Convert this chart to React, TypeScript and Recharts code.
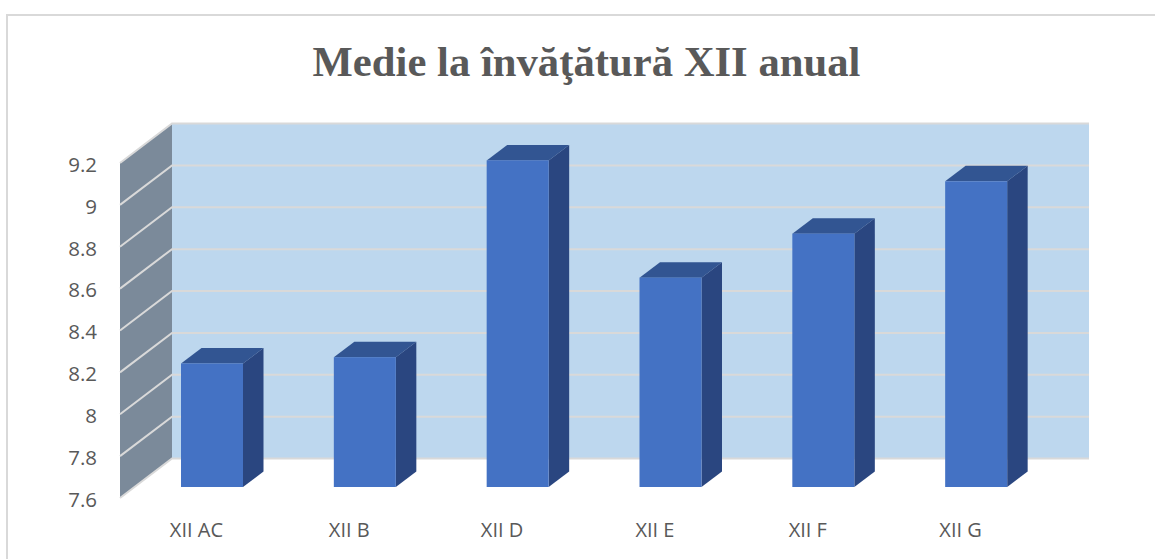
import React from "react";
import { BarChart, Bar, XAxis, YAxis, CartesianGrid } from "recharts";

const categories = ["XII AC", "XII B", "XII D", "XII E", "XII F", "XII G"];
const averages = [8.19, 8.22, 9.16, 8.6, 8.81, 9.06];
const yTicks = [7.6, 7.8, 8, 8.2, 8.4, 8.6, 8.8, 9, 9.2];
const rows = categories.map((name, i) => ({ name, value: averages[i] }));

const W = 1155, H = 559;
const PLOT = { left: 120, right: 1037, top: 163, bottom: 498 };
const WALL_DX = 52, WALL_DY = 39.5;
const BAR_DX = 16, BAR_DY = 11;
const DEPTH_DX = 20.5, DEPTH_DY = 15.5;
const GRID = "#d9d9d9";

function Backdrop() {
  const { left, right, top, bottom } = PLOT;
  return (
    <svg width={W} height={H} style={{ position: "absolute", left: 0, top: 0 }}>
      <rect x={7} y={15} width={W} height={H} fill="#ffffff" stroke={GRID} strokeWidth={2} />
      <text x={586.5} y={76} textAnchor="middle" fontFamily="'Liberation Serif', serif" fontWeight={700} fontSize={42.7} fill="#595959">
        Medie la învăţătură XII anual
      </text>
      <rect x={left + WALL_DX} y={top - WALL_DY} width={right - left} height={bottom - top} fill="#bdd7ee" />
      <polygon
        points={`${left},${top} ${left + WALL_DX},${top - WALL_DY} ${left + WALL_DX},${bottom - WALL_DY} ${left},${bottom}`}
        fill="#7b8a9a"
      />
    </svg>
  );
}

function gridLine(props: any) {
  const y = props.y1;
  const { left, right } = PLOT;
  return (
    <g key={props.key ?? y}>
      <polyline
        points={`${left},${y} ${left + WALL_DX},${y - WALL_DY} ${right + WALL_DX},${y - WALL_DY}`}
        fill="none"
        stroke={GRID}
        strokeWidth={2}
      />
    </g>
  );
}

function Bar3D(props: any) {
  const x = props.x + BAR_DX;
  const y = props.y - BAR_DY;
  const w = props.width;
  const h = props.height;
  return (
    <g>
      <polygon points={`${x},${y} ${x + DEPTH_DX},${y - DEPTH_DY} ${x + w + DEPTH_DX},${y - DEPTH_DY} ${x + w},${y}`} fill="#325592" />
      <polygon points={`${x + w},${y} ${x + w + DEPTH_DX},${y - DEPTH_DY} ${x + w + DEPTH_DX},${y + h - DEPTH_DY} ${x + w},${y + h}`} fill="#2a4680" />
      <rect x={x} y={y} width={w} height={h} fill="#4472c4" />
    </g>
  );
}

export default function App() {
  return (
    <div style={{ position: "absolute", left: 0, top: 0, width: W, height: H, overflow: "hidden" }}>
      <Backdrop />
      <div style={{ position: "absolute", left: 0, top: 0 }}>
        <BarChart
          width={W}
          height={H}
          data={rows}
          margin={{ top: PLOT.top, right: W - PLOT.right, bottom: 0, left: 0 }}
        >
          <CartesianGrid vertical={false} horizontal={gridLine} />
          <XAxis
            dataKey="name"
            axisLine={false}
            tickLine={false}
            height={H - PLOT.bottom}
            tickMargin={19}
            interval={0}
            tick={{ fontFamily: "'Open Sans', sans-serif", fontSize: 20, fill: "#595959" }}
          />
          <YAxis
            width={PLOT.left}
            domain={[yTicks[0], yTicks[yTicks.length - 1]]}
            ticks={yTicks}
            interval={0}
            axisLine={false}
            tickLine={false}
            tickMargin={17}
            tick={{ fontFamily: "'Open Sans', sans-serif", fontSize: 20.5, fill: "#595959", dy: 1.5 }}
          />
          <Bar dataKey="value" barSize={62} shape={Bar3D} isAnimationActive={false} />
        </BarChart>
      </div>
    </div>
  );
}
